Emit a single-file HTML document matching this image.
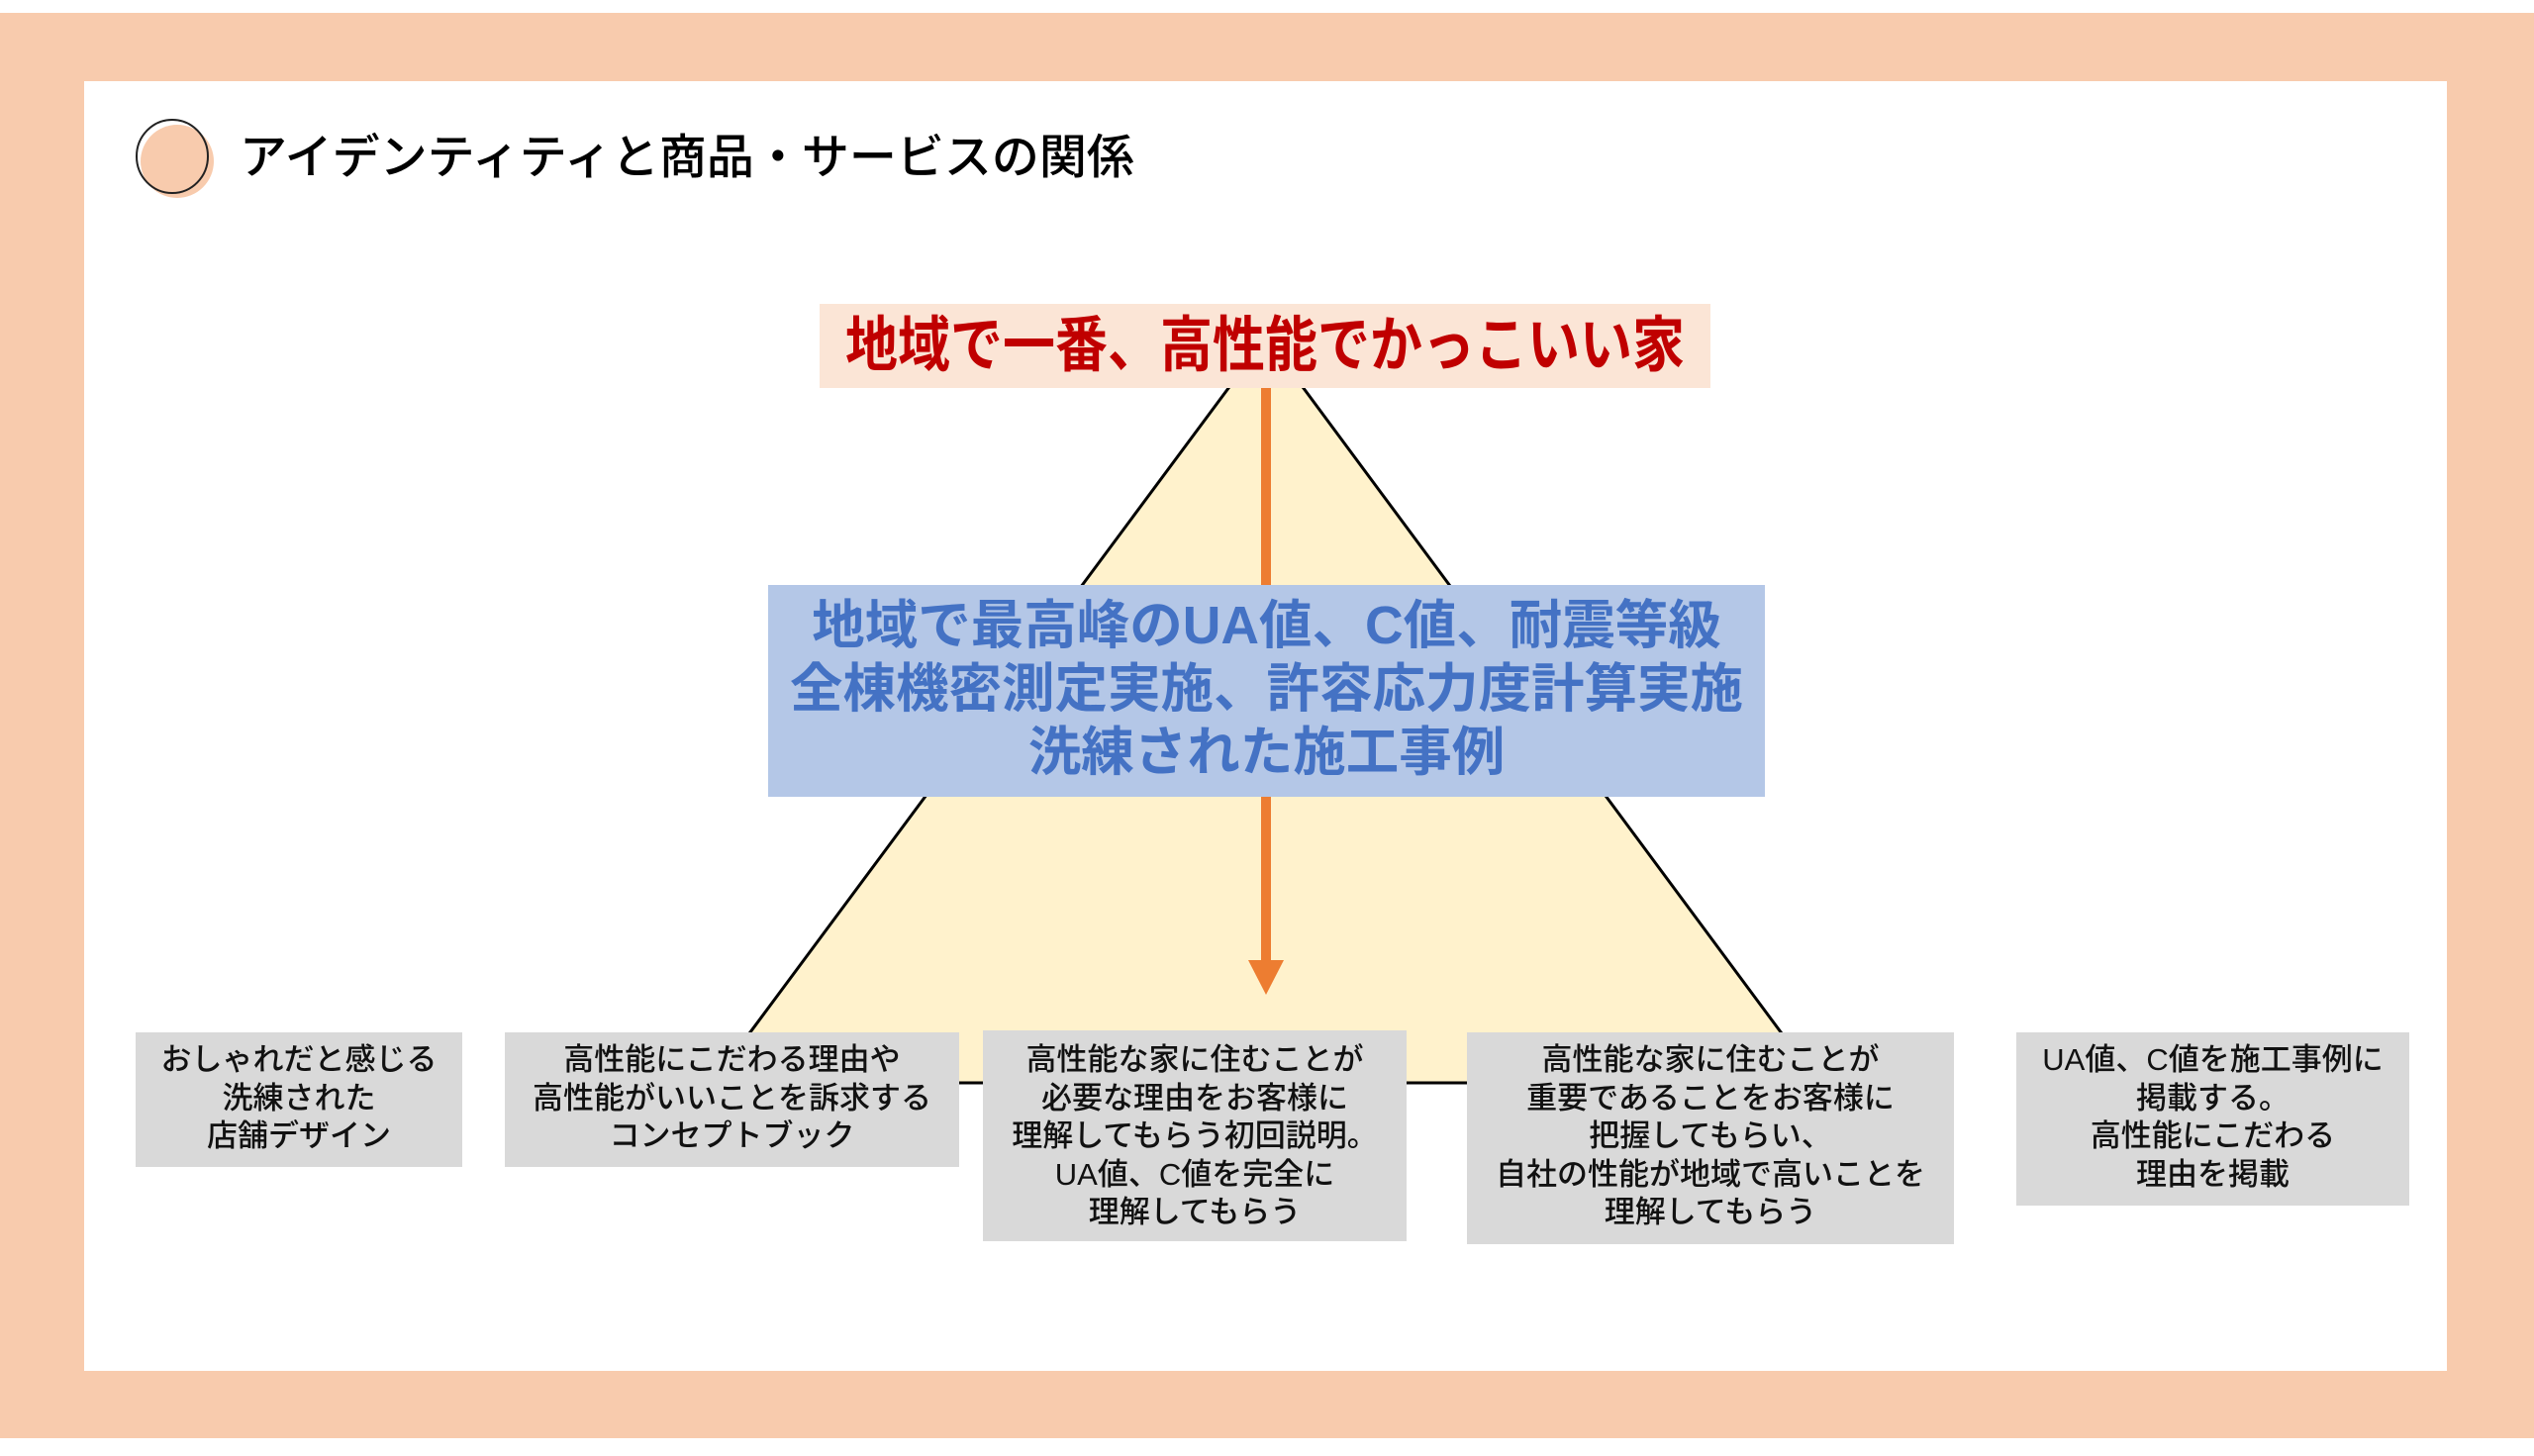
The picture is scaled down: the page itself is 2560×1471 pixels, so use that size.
<!DOCTYPE html>
<html><head><meta charset="utf-8"><style>
*{margin:0;padding:0;box-sizing:border-box}
body{width:2560px;height:1471px;background:#fff;position:relative;overflow:hidden;font-family:"Liberation Sans","Noto Sans CJK JP",sans-serif}
.abs{position:absolute}
.gb{position:absolute;background:#D9D9D9;text-align:center;font-size:31px;line-height:38.5px;padding-top:9px;color:#111;font-weight:500;white-space:nowrap}
</style></head><body>
<div class="abs" style="left:0;top:13px;width:2560px;height:1440px;background:#F8CBAD"></div>
<div class="abs" style="left:85px;top:82px;width:2387px;height:1303px;background:#fff"></div>
<svg class="abs" style="left:0;top:0" width="2560" height="1471">
<ellipse cx="179" cy="163" rx="37" ry="37" fill="#F8CBAD"/>
<ellipse cx="174" cy="158" rx="36" ry="37" fill="none" stroke="#222" stroke-width="2"/>
<polygon points="1279,341 720,1094 1837,1094" fill="#FFF2CC" stroke="#000" stroke-width="3"/>
<line x1="1279" y1="392" x2="1279" y2="975" stroke="#ED7D31" stroke-width="10"/>
<polygon points="1261,970 1297,970 1279,1005" fill="#ED7D31"/>
</svg>
<div class="abs" style="left:242px;top:128px;font-size:48px;font-weight:500;line-height:64px;color:#000;white-space:nowrap">アイデンティティと商品・サービスの関係</div>
<div class="abs" style="left:828px;top:307px;width:900px;height:85px;background:#FBE5D6"></div>
<div class="abs" style="left:828px;top:307px;width:900px;height:85px;color:#C00000;font-weight:700;font-size:53px;line-height:85px;text-align:center;white-space:nowrap;transform:scaleY(1.15)">地域で一番、高性能でかっこいい家</div>
<div class="abs" style="left:776px;top:591px;width:1007px;height:214px;background:#B4C7E7;color:#4472C4;font-weight:700;font-size:53.5px;line-height:64px;text-align:center;padding-top:10px;white-space:nowrap">地域で最高峰のUA値、C値、耐震等級<br>全棟機密測定実施、許容応力度計算実施<br>洗練された施工事例</div>
<div class="gb" style="left:137px;top:1043px;width:330px;height:136px">おしゃれだと感じる<br>洗練された<br>店舗デザイン</div>
<div class="gb" style="left:510px;top:1043px;width:459px;height:136px">高性能にこだわる理由や<br>高性能がいいことを訴求する<br>コンセプトブック</div>
<div class="gb" style="left:993px;top:1041px;width:428px;height:213px;padding-top:11px">高性能な家に住むことが<br>必要な理由をお客様に<br>理解してもらう初回説明。<br>UA値、C値を完全に<br>理解してもらう</div>
<div class="gb" style="left:1482px;top:1043px;width:492px;height:214px">高性能な家に住むことが<br>重要であることをお客様に<br>把握してもらい、<br>自社の性能が地域で高いことを<br>理解してもらう</div>
<div class="gb" style="left:2037px;top:1043px;width:397px;height:175px">UA値、C値を施工事例に<br>掲載する。<br>高性能にこだわる<br>理由を掲載</div>
</body></html>
